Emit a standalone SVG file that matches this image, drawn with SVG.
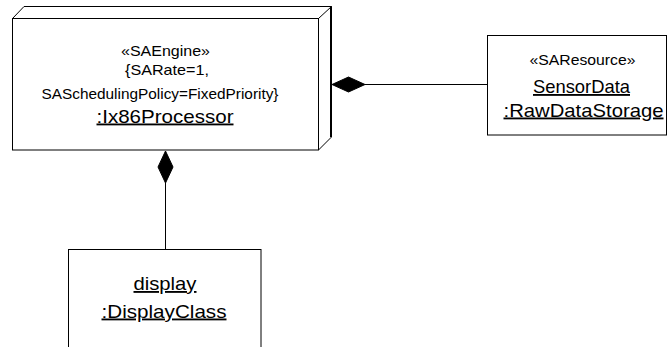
<svg xmlns="http://www.w3.org/2000/svg" width="671" height="347" viewBox="0 0 671 347">
<style>
.box{fill:#fff;stroke:#000;stroke-width:1}
.edge{fill:none;stroke:#000;stroke-width:1}
.dia{fill:#000;stroke:#000;stroke-width:1}
text{font-family:"Liberation Sans",Arial,sans-serif;fill:#000;text-anchor:middle}
.s{font-size:14.5px}
.n{font-size:18.5px;text-decoration:underline}
</style>
<rect width="671" height="347" fill="#fff"/>
<g id="processor">
<rect class="box" x="12.5" y="18.5" width="306" height="131.5"/>
<path class="edge" d="M12.5 18.5 L24 6.5 L331.5 6.5 L318.5 18.5 M331.5 6.5 L331.5 137 L318.5 150"/>
<line x1="331" y1="6.5" x2="331" y2="137" stroke="#000" stroke-width="2"/>
<text class="s" x="165.5" y="55.5" textLength="89" lengthAdjust="spacingAndGlyphs">«SAEngine»</text>
<text class="s" x="167" y="74.5" textLength="84" lengthAdjust="spacingAndGlyphs">{SARate=1,</text>
<text class="s" x="160" y="98.5" textLength="237" lengthAdjust="spacingAndGlyphs">SASchedulingPolicy=FixedPriority}</text>
<text class="n" x="165" y="122.5" textLength="137" lengthAdjust="spacingAndGlyphs">:Ix86Processor</text>
</g>
<g id="sensordata">
<rect class="box" x="487.5" y="35.5" width="179" height="99.5"/>
<text class="s" x="582.5" y="65" textLength="106" lengthAdjust="spacingAndGlyphs">«SAResource»</text>
<text class="n" x="581.5" y="93" textLength="97" lengthAdjust="spacingAndGlyphs">SensorData</text>
<text class="n" x="583.5" y="116.5" textLength="160" lengthAdjust="spacingAndGlyphs">:RawDataStorage</text>
</g>
<g id="display">
<rect class="box" x="68.5" y="249.5" width="192.5" height="120"/>
<text class="n" x="165" y="290" textLength="63" lengthAdjust="spacingAndGlyphs">display</text>
<text class="n" x="164" y="317.5" textLength="125" lengthAdjust="spacingAndGlyphs">:DisplayClass</text>
</g>
<g id="connectors">
<line class="edge" x1="365" y1="84.5" x2="487.5" y2="84.5"/>
<polygon class="dia" points="332,84.5 348.5,77 365,84.5 348.5,92"/>
<line class="edge" x1="165.5" y1="183" x2="165.5" y2="249.5"/>
<polygon class="dia" points="165.5,151 173,167 165.5,183 158,167"/>
</g>
</svg>
